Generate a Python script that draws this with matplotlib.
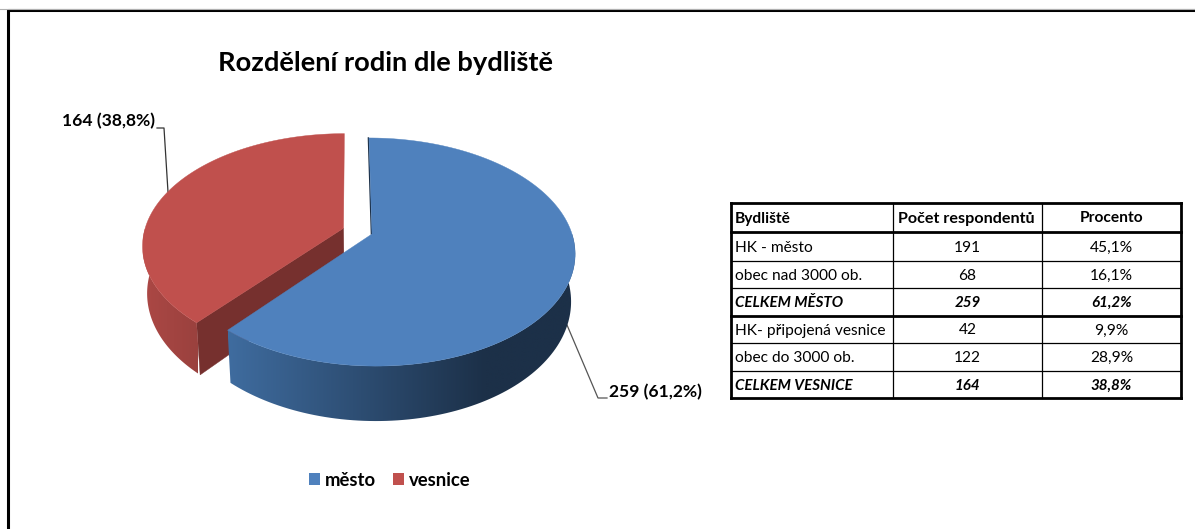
import numpy as np
import matplotlib
matplotlib.use("Agg")
from matplotlib import pyplot as plt
from matplotlib.patches import Polygon, Patch

plt.rcParams['font.family'] = ['Lato', 'DejaVu Sans']

title = "Rozdělení rodin dle bydliště"
categories = ["město", "vesnice"]
counts = [259, 164]
data_labels = ["259 (61,2%)", "164 (38,8%)"]

table_header = ["Bydliště", "Počet respondentů", "Procento"]
table_names = ["HK - město", "obec nad 3000 ob.", "CELKEM MĚSTO",
               "HK- připojená vesnice", "obec do 3000 ob.", "CELKEM VESNICE"]
table_counts = ["191", "68", "259", "42", "122", "164"]
table_percents = ["45,1%", "16,1%", "61,2%", "9,9%", "28,9%", "38,8%"]
total_rows = [2, 5]

# pixel layout of the table
col_x = [731, 893, 1042, 1181]
row_y = [203, 232, 261, 288, 316, 343, 371, 398]

# pie projection: unit disc -> screen pixels
CX, CY = 372, 234
A, B, SHEAR, K = 200.0, 111.2, -3.5, 0.158
DEPTH = 46.3
SHRINK = 0.98  # bottom rim is a bit narrower than the top one
EXPLODE = 0.152

top_colors = ["#4F81BD", "#C0504D"]
wall_from = ["#3F6C9F", "#AC4845"]
wall_to = ["#1C3048", "#9A413E"]
inner_color = ["#1C3048", "#76302E"]


def project(u, v, lift=0.0):
    w = 1 + K * v
    x = CX + (A * u + SHEAR * v) / w
    if lift:
        x = CX + (x - CX) * SHRINK
    return x, CY - B * v / w + lift / w


def wedge_edge(a0, a1, off, n=160):
    t = np.linspace(a0, a1, n)
    return np.sin(t) + off[0], np.cos(t) + off[1]


def mix(c0, c1, f):
    c0 = np.array(matplotlib.colors.to_rgb(c0))
    c1 = np.array(matplotlib.colors.to_rgb(c1))
    return c0 + (c1 - c0) * f


fig = plt.figure(figsize=(11.95, 5.29), dpi=100)
ax = fig.add_axes([0, 0, 1, 1])
ax.axis("off")

# frame, only top and left are in the picture
ax.plot([8, 8, 1195], [529, 10, 10], color="black", lw=2.2, solid_capstyle="butt")
ax.plot([0, 1195], [8.5, 8.5], color="#b0b0b0", lw=0.8)

fracs = np.array(counts) / sum(counts)
a_blue = 2 * np.pi * fracs[0]
blue_off = (0.0, 0.0)
mid_red = a_blue + np.pi * fracs[1]
red_off = (EXPLODE * np.sin(mid_red), EXPLODE * np.cos(mid_red))
spans = [(0.0, a_blue, blue_off), (a_blue, 2 * np.pi, red_off)]

# red first, the blue slice sits in front of it
for i in [1, 0]:
    a0, a1, off = spans[i]
    u, v = wedge_edge(a0, a1, off)
    # inner wall on the cut that faces the viewer
    if i == 1:
        xt, yt = project(np.array([off[0], u[0]]), np.array([off[1], v[0]]))
        xb, yb = project(np.array([off[0], u[0]]), np.array([off[1], v[0]]), DEPTH)
        ax.add_patch(Polygon(np.c_[[xt[0], xt[1], xb[1], xb[0]], [yt[0], yt[1], yb[1], yb[0]]],
                             fc=inner_color[i], ec=inner_color[i], lw=0.3, zorder=2))
    # outer wall, a clipped gradient image
    xt, yt = project(u, v)
    xb, yb = project(u, v, DEPTH)
    keep = v - off[1] < 0.0
    wall = Polygon(np.r_[np.c_[xt[keep], yt[keep]], np.c_[xb[keep], yb[keep]][::-1]],
                   transform=ax.transData, fc="none", ec="none")
    ax.add_patch(wall)
    x_lo, x_hi = xt[keep].min(), xt[keep].max()
    f = np.linspace(0, 1, 256)
    if i == 0:
        f = np.minimum(f * 1.35, 1.0)
    grad = np.array([mix(wall_from[i], wall_to[i], q) for q in f])[None, :, :]
    im = ax.imshow(grad, extent=[x_lo, x_hi, yb.max() + 1, yt.min() - 1], aspect="auto",
                   interpolation="bilinear", zorder=3 + (1 - i) * 2)
    im.set_clip_path(wall)
    # top face
    x, y = project(np.r_[off[0], u], np.r_[off[1], v])
    ax.add_patch(Polygon(np.c_[x, y], fc=top_colors[i], ec=top_colors[i], lw=0.3,
                         zorder=4 + (1 - i) * 2))
ax.set_xlim(0, 1195)
ax.set_ylim(529, 0)

# dark sliver of the blue wall at 12 o'clock
xs, ys = project(np.array([0.0, 0.0]), np.array([1.0, 0.0]))
ax.plot(xs - 0.6, ys, color=inner_color[0], lw=1.0, zorder=5.5)

# data labels with leader lines
ax.plot([567, 598, 607], [325, 398, 398], color="#555555", lw=0.9, zorder=3)
ax.plot([157, 164, 168], [128, 128, 192], color="#333333", lw=0.9, zorder=3)
ax.text(609, 392, data_labels[0], fontsize=12.6, fontweight="bold", va="center", ha="left", color="black")
ax.text(62, 121, data_labels[1], fontsize=12.6, fontweight="bold", va="center", ha="left", color="black")

ax.text(386, 63, title, fontsize=19.6, fontweight="bold", ha="center", va="center", color="black")

leg = ax.legend(handles=[Patch(fc=top_colors[0], label=categories[0]), Patch(fc=top_colors[1], label=categories[1])],
                loc="center", bbox_to_anchor=(389.5 / 1195, 1 - 480 / 529), ncol=2, frameon=False,
                prop={"size": 13.3, "weight": "bold"}, handlelength=0.6, handleheight=0.6,
                handletextpad=0.27, columnspacing=0.9)

# table
for i, y in enumerate(row_y):
    thick = i in (0, 1, 4, 7)
    ax.plot([col_x[0], col_x[-1]], [y, y], color="black", lw=2.0 if thick else 0.9, solid_capstyle="projecting")
for i, x in enumerate(col_x):
    thick = i in (0, 3)
    ax.plot([x, x], [row_y[0], row_y[-1]], color="black", lw=2.0 if thick else 0.9, solid_capstyle="projecting")

name_x = col_x[0] + 4
count_x = (col_x[1] + col_x[2]) / 2
pct_x = (col_x[2] + col_x[3]) / 2
FS = 11.2
head_y = (row_y[0] + row_y[1]) / 2 + 1
ax.text(name_x, head_y, table_header[0], fontsize=FS, fontweight="bold", va="center")
ax.text(count_x - 1, head_y, table_header[1], fontsize=FS + 0.4, fontweight="bold", va="center", ha="center")
ax.text(pct_x, head_y, table_header[2], fontsize=FS, fontweight="bold", va="center", ha="center")
for r in range(len(table_names)):
    y = (row_y[r + 1] + row_y[r + 2]) / 2 + 1
    total = r in total_rows
    style = {"fontweight": "bold", "fontstyle": "italic", "fontsize": FS - 0.3} if total else {"fontsize": FS}
    ax.text(name_x, y, table_names[r], va="center", **style)
    ax.text(count_x, y, table_counts[r], va="center", ha="center", **style)
    ax.text(pct_x, y, table_percents[r], va="center", ha="center", **style)

fig.savefig("out.png", dpi=100)
